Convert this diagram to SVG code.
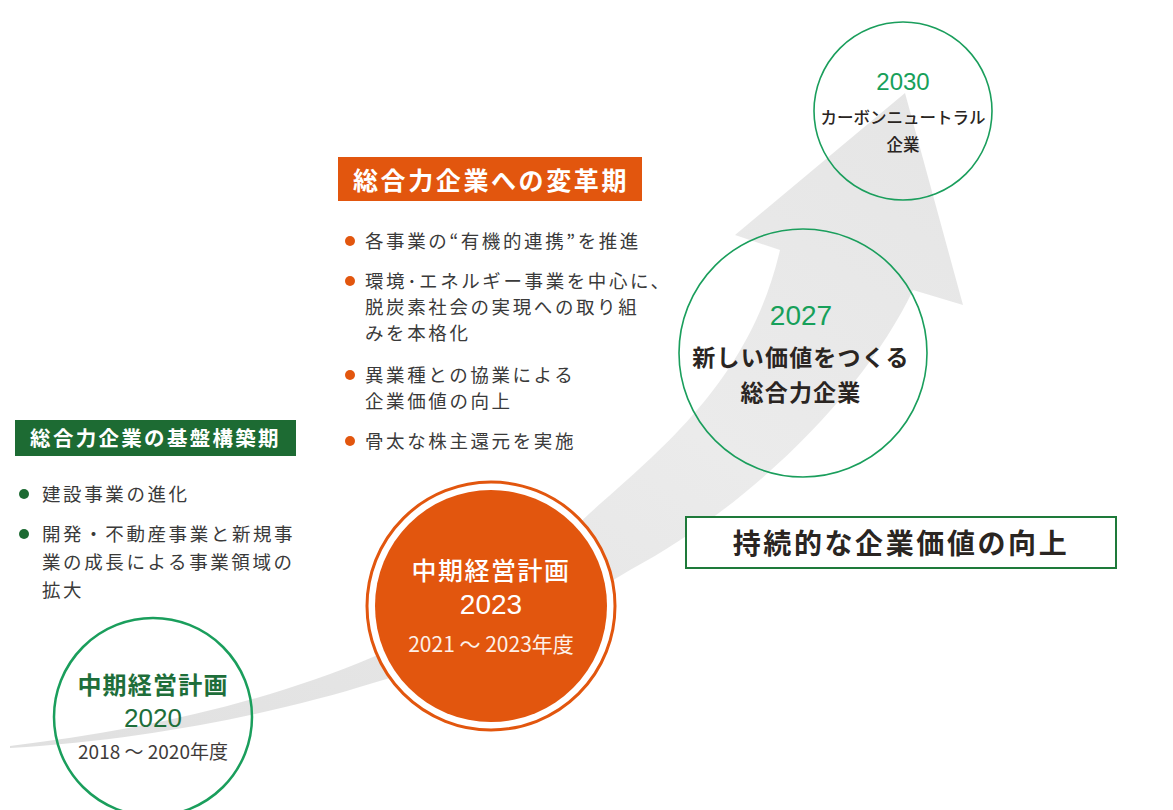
<svg xmlns="http://www.w3.org/2000/svg" width="1173" height="810" viewBox="0 0 1173 810">
<defs>
<linearGradient id="arrowGrad" x1="0" y1="1" x2="1" y2="0">
<stop offset="0" stop-color="#e0e0e0"/>
<stop offset="0.6" stop-color="#ebebeb"/>
<stop offset="1" stop-color="#e5e5e5"/>
</linearGradient>
<style>
text{font-family:"Noto Sans CJK JP","Noto Sans",sans-serif;}
.body{font-size:18.5px;fill:#3a3a3a;letter-spacing:2.6px;}
.gcirc{fill:none;stroke:#1a9e5c;}
.num{font-family:"Liberation Sans",Arial,sans-serif;text-anchor:middle;}
.gnum{fill:#17a05a;}
.dark{fill:#2a2522;text-anchor:middle;}
.mid{text-anchor:middle;}
</style>
</defs>
<rect width="1173" height="810" fill="#ffffff"/>

<g id="arrow">
<path d="M10,746 C130,732 260,705 373,657 C450,625 530,570 590,513 C660,450 750,380 780,250 L735,235 L905,93 L963,305 L913,290 C868,385 760,500 630,570 C540,625 450,660 373,683 C280,712 150,740 10,748 Z" fill="url(#arrowGrad)"/>
</g>

<g id="header-base">
<rect x="15" y="420" width="281" height="36" fill="#1d6b33"/>
<text x="155.5" y="446" class="mid" font-size="20.5" font-weight="700" fill="#ffffff" letter-spacing="2.3">総合力企業の基盤構築期</text>
</g>

<g id="bullets-base">
<circle cx="24" cy="494" r="5" fill="#1d6b33"/>
<text x="42" y="501" class="body" letter-spacing="2.4">建設事業の進化</text>
<circle cx="24" cy="534" r="5" fill="#1d6b33"/>
<text x="42" y="541" class="body" letter-spacing="2.4">開発・不動産事業と新規事</text>
<text x="42" y="569" class="body" letter-spacing="2.4">業の成長による事業領域の</text>
<text x="42" y="597" class="body" letter-spacing="2.4">拡大</text>
</g>

<g id="header-transform">
<rect x="338" y="157" width="304" height="44" fill="#e2560e"/>
<text x="491" y="190" class="mid" font-size="25" font-weight="700" fill="#ffffff" letter-spacing="2.6">総合力企業への変革期</text>
</g>

<g id="bullets-transform">
<circle cx="350" cy="241" r="5" fill="#e2560e"/>
<text x="365" y="248" class="body">各事業の“有機的連携”を推進</text>
<circle cx="350" cy="281" r="5" fill="#e2560e"/>
<text x="365" y="288" class="body">環境･エネルギー事業を中心に、</text>
<text x="365" y="314" class="body">脱炭素社会の実現への取り組</text>
<text x="365" y="340" class="body">みを本格化</text>
<circle cx="350" cy="375" r="5" fill="#e2560e"/>
<text x="365" y="382" class="body">異業種との協業による</text>
<text x="365" y="408" class="body">企業価値の向上</text>
<circle cx="350" cy="441" r="5" fill="#e2560e"/>
<text x="365" y="448" class="body">骨太な株主還元を実施</text>
</g>

<g id="plan-2020">
<circle cx="153" cy="717" r="99" class="gcirc" stroke-width="2.5"/>
<text x="153" y="694" class="mid" font-size="24" font-weight="700" fill="#1e6e3a" letter-spacing="1.2">中期経営計画</text>
<text x="153" y="727" class="num" font-size="26" fill="#1e6e3a">2020</text>
<text x="153" y="759" class="mid" font-size="19" fill="#3e3a39">2018 ～ 2020年度</text>
</g>

<g id="plan-2023">
<circle cx="491" cy="606" r="124" fill="#ffffff" stroke="#e2560e" stroke-width="3"/>
<circle cx="491" cy="606" r="116" fill="#e2560e"/>
<text x="491" y="580" class="mid" font-size="25" font-weight="500" fill="#ffffff" letter-spacing="1.5">中期経営計画</text>
<text x="491" y="614" class="num" font-size="28" fill="#ffffff">2023</text>
<text x="491" y="652" class="mid" font-size="21" fill="#fdf0e8">2021 ～ 2023年度</text>
</g>

<g id="goal-2027">
<circle cx="803" cy="353" r="124" class="gcirc" stroke-width="1.6"/>
<text x="801" y="325" class="num gnum" font-size="28">2027</text>
<text x="801" y="366" class="dark" font-size="23" font-weight="700" letter-spacing="1.2">新しい価値をつくる</text>
<text x="801" y="401" class="dark" font-size="23" font-weight="700" letter-spacing="1.2">総合力企業</text>
</g>

<g id="goal-2030">
<circle cx="903" cy="111" r="89" class="gcirc" stroke-width="1.6"/>
<text x="903" y="90" class="num gnum" font-size="24">2030</text>
<text x="903" y="124" class="dark" font-size="16.5" font-weight="500">カーボンニュートラル</text>
<text x="903" y="151" class="dark" font-size="16.5" font-weight="500">企業</text>
</g>

<g id="value-box">
<rect x="686" y="517" width="430" height="51" fill="#ffffff" stroke="#1e7a3a" stroke-width="2"/>
<text x="901" y="554" class="dark" font-size="28" font-weight="700" letter-spacing="2.6">持続的な企業価値の向上</text>
</g>
</svg>
